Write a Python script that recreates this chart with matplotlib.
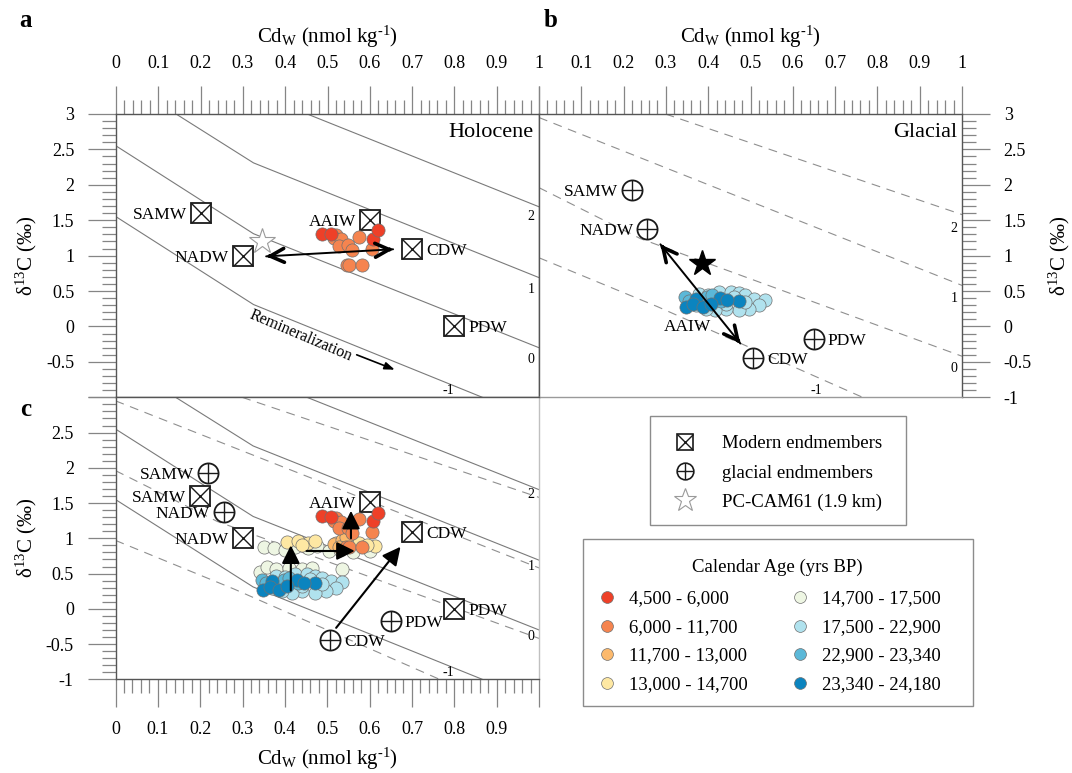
import numpy as np
import matplotlib.pyplot as plt
from matplotlib.patches import Rectangle

plt.rcParams['font.family'] = ['Liberation Serif', 'DejaVu Serif']
plt.rcParams['mathtext.fontset'] = 'custom'
plt.rcParams['mathtext.rm'] = 'Liberation Serif'
plt.rcParams['mathtext.it'] = 'Liberation Serif:italic'

W, H = 1072, 773

# remineralization lines, vertices (Cd, d13C) per line, labelled -1, 0, 1, 2
modern_line_cd = [[0.0, 0.325, 0.866], [0.0, 0.325, 1.0], [0.142, 0.325, 1.0], [0.452, 1.0]]
modern_line_d13c = [[1.55, 0.31, -1.0], [2.55, 1.31, -0.30], [3.0, 2.31, 0.69], [3.0, 1.69]]
glacial_line_cd = [[0.0, 0.28, 0.765], [0.0, 0.24, 1.0], [0.0, 1.0], [0.299, 1.0]]
glacial_line_d13c = [[0.97, 0.28, -1.0], [1.96, 1.24, -0.42], [2.95, 0.58], [3.0, 1.58]]
line_names = ['-1', '0', '1', '2']

# endmembers
modern_names = ['SAMW', 'NADW', 'AAIW', 'CDW', 'PDW']
modern_cd = [0.20, 0.30, 0.60, 0.70, 0.80]
modern_d13c = [1.60, 1.00, 1.51, 1.09, 0.00]
modern_side = ['left', 'left', 'left', 'right', 'right']

glacial_names = ['SAMW', 'NADW', 'CDW', 'PDW']
glacial_cd = [0.219, 0.256, 0.506, 0.65]
glacial_d13c = [1.92, 1.37, -0.44, -0.17]
glacial_side = ['left', 'left', 'right', 'right']

# PC-CAM61 (1.9 km)
core_holocene = (0.346, 1.20)
core_glacial = (0.386, 0.90)

# foraminiferal Cd_w / d13C by calendar age
age_labels = ['4,500 - 6,000', '6,000 - 11,700', '11,700 - 13,000', '13,000 - 14,700',
	'14,700 - 17,500', '17,500 - 22,900', '22,900 - 23,340', '23,340 - 24,180']
age_colors = ['#ee4028', '#f5844f', '#fcb96c', '#fee8a3', '#eef6e3', '#b0e2ee', '#5bb8d8', '#0b84bf']

cd_4500_6000 = [0.488, 0.508, 0.607, 0.620]
d13c_4500_6000 = [1.31, 1.30, 1.24, 1.36]
cd_6000_11700 = [0.520, 0.516, 0.533, 0.528, 0.549, 0.559, 0.575, 0.606, 0.545, 0.552, 0.581]
d13c_6000_11700 = [1.29, 1.25, 1.23, 1.14, 1.15, 1.08, 1.27, 1.09, 0.87, 0.87, 0.87]
cd_11700_13000 = [0.515, 0.535, 0.545, 0.528]
d13c_11700_13000 = [0.92, 0.97, 1.02, 0.88]
cd_13000_14700 = [0.405, 0.430, 0.455, 0.470, 0.440, 0.520, 0.548, 0.575, 0.612, 0.595]
d13c_13000_14700 = [0.95, 0.96, 0.93, 0.96, 0.90, 0.94, 0.92, 0.93, 0.89, 0.91]
cd_14700_17500 = [0.350, 0.375, 0.400, 0.425, 0.455, 0.475, 0.505, 0.530, 0.560, 0.600,
	0.342, 0.358, 0.380, 0.410, 0.440, 0.465, 0.535]
d13c_14700_17500 = [0.87, 0.86, 0.84, 0.88, 0.86, 0.89, 0.82, 0.83, 0.81, 0.82,
	0.52, 0.60, 0.56, 0.58, 0.57, 0.58, 0.57]
cd_17500_22900 = [0.378, 0.425, 0.453, 0.472, 0.488, 0.508, 0.534, 0.520, 0.496, 0.472,
	0.441, 0.417, 0.394, 0.370, 0.441, 0.488, 0.460, 0.400]
d13c_17500_22900 = [0.465, 0.49, 0.49, 0.47, 0.44, 0.39, 0.38, 0.30, 0.25, 0.23,
	0.25, 0.23, 0.25, 0.30, 0.32, 0.35, 0.42, 0.45]
cd_22900_23340 = [0.346, 0.398, 0.410, 0.355, 0.430]
d13c_22900_23340 = [0.41, 0.41, 0.44, 0.36, 0.36]
cd_23340_24180 = [0.370, 0.429, 0.472, 0.348, 0.364, 0.387, 0.406, 0.445]
d13c_23340_24180 = [0.394, 0.404, 0.362, 0.268, 0.315, 0.268, 0.324, 0.37]

age_cd = [cd_4500_6000, cd_6000_11700, cd_11700_13000, cd_13000_14700,
	cd_14700_17500, cd_17500_22900, cd_22900_23340, cd_23340_24180]
age_d13c = [d13c_4500_6000, d13c_6000_11700, d13c_11700_13000, d13c_13000_14700,
	d13c_14700_17500, d13c_17500_22900, d13c_22900_23340, d13c_23340_24180]

# mixing arrows (start -> end)
arrow_a = ((0.655, 1.09), (0.355, 0.99))
arrow_b = ((0.287, 1.16), (0.476, -0.24))
arrows_c = [((0.414, 0.26), (0.414, 0.90)), ((0.451, 0.82), (0.565, 0.82)),
	((0.556, 1.00), (0.556, 1.39)), ((0.521, -0.27), (0.673, 0.88))]
remin_arrow = ((0.569, -0.40), (0.659, -0.61))

cd_ticks = np.round(np.arange(0, 1.001, 0.1), 2)
cd_minor = np.round(np.arange(0, 1.001, 0.02), 2)
d13c_ticks = np.arange(-1, 3.01, 0.5)
d13c_minor = np.round(np.arange(-1, 3.001, 0.1), 2)

def tickText(v):
	return f'{v:g}'

def figRect(left, top, right, bottom):
	return [left / W, 1 - bottom / H, (right - left) / W, (bottom - top) / H]

def setupAxes(ax, xside, yside, xlabels, ylabels):
	ax.set_xlim(0, 1)
	ax.set_ylim(-1, 3)
	ax.set_xticks(cd_ticks)
	ax.set_xticks(cd_minor, minor=True)
	ax.set_yticks(d13c_ticks)
	ax.set_yticks(d13c_minor, minor=True)
	ax.set_xticklabels(xlabels)
	ax.set_yticklabels(ylabels)
	ax.tick_params(which='both', direction='out', color='#858585', width=0.9, labelsize=13, pad=10,
		top=(xside == 'top'), bottom=(xside == 'bottom'),
		labeltop=(xside == 'top'), labelbottom=(xside == 'bottom'),
		left=(yside == 'left'), right=(yside == 'right'),
		labelleft=(yside == 'left'), labelright=(yside == 'right'))
	ax.tick_params(which='major', length=20)
	ax.tick_params(which='minor', length=10)
	for s in ax.spines.values():
		s.set_color('#555555')
		s.set_linewidth(1.0)

def drawLines(ax, xs, ys, dashed):
	for lx, ly in zip(xs, ys):
		if dashed:
			ax.plot(lx, ly, color='#8f8f8f', lw=0.8, dashes=(8, 6), zorder=1)
		else:
			ax.plot(lx, ly, color='#7a7a7a', lw=0.8, zorder=1)

def drawLineLabels(ax, xs, ys):
	for name, x, y in zip(line_names, xs, ys):
		ax.text(x, y, name, fontsize=10, ha='right', va='center', zorder=2)

def drawEndmembers(ax, names, cds, d13cs, sides, modern):
	outer, inner = ('s', 'x') if modern else ('o', '+')
	ax.plot(cds, d13cs, ls='none', marker=outer, ms=14.5, mfc='white', mec='#1a1a1a', mew=1.3, zorder=3)
	ax.plot(cds, d13cs, ls='none', marker=inner, ms=14.5, mec='#1a1a1a', mew=1.0, zorder=3)
	for name, x, y, side in zip(names, cds, d13cs, sides):
		dx = -0.033 if side == 'left' else 0.033
		ax.text(x + dx, y, name, fontsize=12.5, ha='right' if side == 'left' else 'left',
			va='center_baseline', zorder=3)

def drawAges(ax, groups):
	for i in groups:
		ax.scatter(age_cd[i], age_d13c[i], s=90, c=age_colors[i], edgecolors='#707070',
			linewidths=0.5, zorder=4)

def doubleArrow(ax, start, end):
	ax.annotate('', xy=end, xytext=start, zorder=5,
		arrowprops=dict(arrowstyle='-', lw=1.4, color='black', shrinkA=0, shrinkB=0))
	for tip, tail in ((end, start), (start, end)):
		near = (tip[0] + 0.03 * (tail[0] - tip[0]), tip[1] + 0.03 * (tail[1] - tip[1]))
		ax.annotate('', xy=tip, xytext=near, zorder=5,
			arrowprops=dict(arrowstyle='->,head_length=1.0,head_width=0.5', lw=2.6,
				color='black', shrinkA=0, shrinkB=0))

def solidArrow(ax, start, end):
	ax.annotate('', xy=end, xytext=start, zorder=5,
		arrowprops=dict(arrowstyle='-|>,head_length=1.1,head_width=0.55', lw=1.5,
			color='black', shrinkA=0, shrinkB=0))

fig = plt.figure(figsize=(W / 100, H / 100), dpi=100)

ax_a = fig.add_axes(figRect(116, 114, 539, 397.3))
ax_b = fig.add_axes(figRect(539, 114, 962, 397.3))
ax_c = fig.add_axes(figRect(115.5, 397.3, 539, 679.3))

setupAxes(ax_a, 'top', 'left', [tickText(v) for v in cd_ticks],
	[''] + [tickText(v) for v in d13c_ticks[1:]])
setupAxes(ax_b, 'top', 'right', [''] + [tickText(v) for v in cd_ticks[1:]],
	[tickText(v) for v in d13c_ticks])
setupAxes(ax_c, 'bottom', 'left', [tickText(v) for v in cd_ticks[:-1]] + [''],
	[tickText(v) for v in d13c_ticks[:-1]] + [''])
ax_c.spines['right'].set_color('#c0c0c0')
ax_b.spines['bottom'].set_color('#9a9a9a')

# a: Holocene
drawLines(ax_a, modern_line_cd, modern_line_d13c, False)
drawLineLabels(ax_a, [0.80, 0.99, 0.99, 0.99], [-0.90, -0.47, 0.52, 1.55])
drawEndmembers(ax_a, modern_names, modern_cd, modern_d13c, modern_side, True)
ax_a.plot(*core_holocene, marker='*', ms=19, mfc='white', mec='#9a9a9a', mew=0.8, zorder=3)
drawAges(ax_a, [1, 0])
doubleArrow(ax_a, *arrow_a)
ax_a.annotate('', xy=remin_arrow[1], xytext=remin_arrow[0], zorder=5,
	arrowprops=dict(arrowstyle='-|>,head_length=0.6,head_width=0.22', lw=1.2, color='black',
		shrinkA=0, shrinkB=0))
ax_a.text(0.437, -0.13, 'Remineralization', fontsize=11.5, rotation=-23, rotation_mode='anchor',
	ha='center', va='center')
ax_a.text(0.988, 2.68, 'Holocene', fontsize=16, ha='right', va='baseline')

# b: Glacial
drawLines(ax_b, glacial_line_cd, glacial_line_d13c, True)
drawLineLabels(ax_b, [0.67, 0.99, 0.99, 0.99], [-0.90, -0.60, 0.39, 1.38])
drawEndmembers(ax_b, glacial_names, glacial_cd, glacial_d13c, glacial_side, False)
ax_b.text(0.35, 0.02, 'AAIW', fontsize=12.5, ha='center', va='center_baseline', zorder=6)
ax_b.plot(*core_glacial, marker='*', ms=19, color='black', zorder=3)
drawAges(ax_b, [5, 6, 7])
doubleArrow(ax_b, *arrow_b)
ax_b.text(0.988, 2.68, 'Glacial', fontsize=16, ha='right', va='baseline')

# c: both states
drawLines(ax_c, modern_line_cd, modern_line_d13c, False)
drawLines(ax_c, glacial_line_cd, glacial_line_d13c, True)
drawLineLabels(ax_c, [0.80, 0.99, 0.99, 0.99], [-0.90, -0.40, 0.60, 1.62])
drawEndmembers(ax_c, modern_names, modern_cd, modern_d13c, modern_side, True)
drawEndmembers(ax_c, glacial_names, glacial_cd, glacial_d13c, glacial_side, False)
drawAges(ax_c, [4, 3, 2, 1, 0, 5, 6, 7])
for start, end in arrows_c:
	solidArrow(ax_c, start, end)

# axis titles and panel letters
cd_title = r'Cd$_\mathregular{W}$ (nmol kg$^\mathregular{‐1}$)'
d13c_title = 'δ$^{13}$C (‰)'
fig.text(327.5 / W, 1 - 43 / H, cd_title, fontsize=15, ha='center', va='baseline')
fig.text(750.5 / W, 1 - 43 / H, cd_title, fontsize=15, ha='center', va='baseline')
fig.text(327.5 / W, 1 - 765 / H, cd_title, fontsize=15, ha='center', va='baseline')
fig.text(26 / W, 1 - 255.5 / H, d13c_title, fontsize=15, rotation=90, ha='center', va='center')
fig.text(26 / W, 1 - 538 / H, d13c_title, fontsize=15, rotation=90, ha='center', va='center')
fig.text(1059 / W, 1 - 255.5 / H, d13c_title, fontsize=15, rotation=90, ha='center', va='center')
fig.text(19 / W, 1 - 27 / H, 'a', fontsize=18, fontweight='bold', va='baseline')
fig.text(544 / W, 1 - 27 / H, 'b', fontsize=18, fontweight='bold', va='baseline')
fig.text(20 / W, 1 - 416 / H, 'c', fontsize=18, fontweight='bold', va='baseline')

# legends, drawn in figure pixels
lg = fig.add_axes([0, 0, 1, 1])
lg.set_xlim(0, W)
lg.set_ylim(H, 0)
lg.axis('off')

lg.add_patch(Rectangle((650, 416), 256, 109, fill=False, ec='#8c8c8c', lw=1))
sym_rows = [442, 471, 500]
lg.plot(685, sym_rows[0], marker='s', ms=12, mfc='white', mec='#1a1a1a', mew=1.2)
lg.plot(685, sym_rows[0], marker='x', ms=12, mec='#1a1a1a', mew=1.0)
lg.plot(685, sym_rows[1], marker='o', ms=12, mfc='white', mec='#1a1a1a', mew=1.2)
lg.plot(685, sym_rows[1], marker='+', ms=12, mec='#1a1a1a', mew=1.0)
lg.plot(685, sym_rows[2], marker='*', ms=17, mfc='white', mec='#9a9a9a', mew=0.8)
for y, txt in zip(sym_rows, ['Modern endmembers', 'glacial endmembers', 'PC-CAM61 (1.9 km)']):
	lg.text(722, y, txt, fontsize=13.5, ha='left', va='center_baseline')

lg.add_patch(Rectangle((583, 539), 390, 167, fill=False, ec='#8c8c8c', lw=1))
lg.text(777.5, 565, 'Calendar Age (yrs BP)', fontsize=13.5, ha='center', va='center_baseline')
age_rows = [597, 625.5, 654, 683]
for i, (label, color) in enumerate(zip(age_labels, age_colors)):
	mx, tx = (607, 629) if i < 4 else (800, 822)
	y = age_rows[i % 4]
	lg.plot(mx, y, marker='o', ms=8.5, mfc=color, mec='#707070', mew=0.5)
	lg.text(tx, y, label, fontsize=13.5, ha='left', va='center_baseline')

fig.savefig('out.png', dpi=100)
